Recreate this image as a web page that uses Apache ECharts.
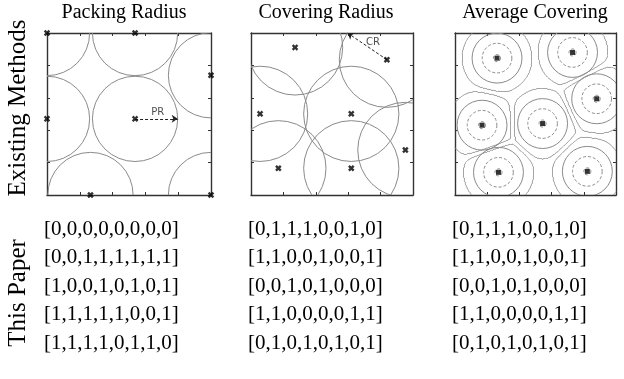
<!DOCTYPE html>
<html><head><meta charset="utf-8">
<script src="https://cdn.jsdelivr.net/npm/echarts@6/dist/echarts.min.js"></script>
<style>html,body{margin:0;padding:0;background:#fff}#c{width:624px;height:379px}</style>
</head><body><div id="c"></div>
<script>
// ---- data ----
const panelTitles = ['Packing Radius', 'Covering Radius', 'Average Covering'];
const rowLabels = ['Existing Methods', 'This Paper'];
const packX = [0, 0.537, 1, 0, 0.537, 0.265, 1];
const packY = [1, 1, 0.739, 0.47, 0.47, 0, 0];
const packR = 0.26;
const covX = [0.272, 0.839, 0.056, 0.619, 0.953, 0.169, 0.619];
const covY = [0.911, 0.835, 0.501, 0.501, 0.278, 0.165, 0.165];
const covR = 0.294;
const avgX = [0.261, 0.730, 0.880, 0.168, 0.544, 0.270, 0.822];
const avgY = [0.845, 0.880, 0.594, 0.431, 0.441, 0.140, 0.146];
const avgRingR = [0.022, 0.092, 0.155];
const avgRingDashed = [true, true, false];
const avgOuterR = 0.218;
const avgGap = 0.022;
const prArrow = [[0.537, 0.47], [0.797, 0.47]];
const crArrow = [[0.839, 0.835], [0.596, 1.0]];
const prLabel = [0.675, 0.51, 'PR'];
const crLabel = [0.753, 0.94, 'CR'];
const bitsCol1 = [[0,0,0,0,0,0,0,0],[0,0,1,1,1,1,1,1],[1,0,0,1,0,1,0,1],[1,1,1,1,1,0,0,1],[1,1,1,1,0,1,1,0]];
const bitsCol2 = [[0,1,1,1,0,0,1,0],[1,1,0,0,1,0,0,1],[0,0,1,0,1,0,0,0],[1,1,0,0,0,0,1,1],[0,1,0,1,0,1,0,1]];
const bitsCol3 = [[0,1,1,1,0,0,1,0],[1,1,0,0,1,0,0,1],[0,0,1,0,1,0,0,0],[1,1,0,0,0,0,1,1],[0,1,0,1,0,1,0,1]];

// ---- layout ----
const gridBoxes = [
  {left: 47, top: 33, width: 164, height: 162},
  {left: 251, top: 33, width: 162, height: 162},
  {left: 455, top: 33, width: 161, height: 162}
];
const serif = 'Liberation Serif';
const ringColor = '#8a8a8a';

const chart = echarts.init(document.getElementById('c'), null, {renderer: 'canvas'});

const xAxes = [], yAxes = [];
gridBoxes.forEach((g, i) => {
  const base = {gridIndex: i, type: 'value', min: 0, max: 1, interval: 0.2,
    axisLabel: {show: false}, splitLine: {show: false},
    axisLine: {show: true, onZero: false, lineStyle: {color: '#333', width: 1.4}},
    axisTick: {show: true, inside: true, length: 3, lineStyle: {color: '#333', width: 1}}};
  xAxes.push(Object.assign({}, base, {position: 'bottom'}));
  xAxes.push(Object.assign({}, base, {position: 'top'}));
  yAxes.push(Object.assign({}, base, {position: 'left'}));
  yAxes.push(Object.assign({}, base, {position: 'right'}));
});

const xMarker = 'path://M0,2.6 L2.6,0 L5,2.4 L7.4,0 L10,2.6 L7.6,5 L10,7.4 L7.4,10 L5,7.6 L2.6,10 L0,7.4 L2.4,5 Z';

function circleSeries(gi, data) {
  return {
    type: 'custom', xAxisIndex: 2 * gi, yAxisIndex: 2 * gi, clip: true, silent: true,
    encode: {x: 0, y: 1}, data: data, z: 2,
    renderItem: function (params, api) {
      const c = api.coord([api.value(0), api.value(1)]);
      const s = api.size([api.value(2), api.value(2)]);
      const dashed = api.value(3) === 1;
      return {type: 'circle', shape: {cx: c[0], cy: c[1], r: s[0]},
        style: {fill: 'none', stroke: ringColor, lineWidth: 1, lineDash: dashed ? [3, 2] : null}};
    }
  };
}
function pointSeries(gi, xs, ys, sym, size) {
  return {type: 'scatter', xAxisIndex: 2 * gi, yAxisIndex: 2 * gi, symbol: sym, symbolSize: size,
    itemStyle: {color: '#000'}, z: 5, silent: true, data: xs.map((x, i) => [x, ys[i]])};
}
function arrowSeries(gi, coords) {
  return {type: 'lines', coordinateSystem: 'cartesian2d', xAxisIndex: 2 * gi, yAxisIndex: 2 * gi,
    symbol: ['none', 'arrow'], symbolSize: 6, z: 4, silent: true,
    lineStyle: {type: [3, 2], color: '#222', width: 1, opacity: 1},
    data: [{coords: coords}]};
}
function labelSeries(gi, lab) {
  return {type: 'scatter', xAxisIndex: 2 * gi, yAxisIndex: 2 * gi, symbolSize: 0, z: 6, silent: true,
    data: [[lab[0], lab[1]]],
    label: {show: true, position: 'inside', formatter: lab[2], color: '#222', fontSize: 10, fontFamily: 'DejaVu Sans'}};
}

// Average-covering outer contour via marching squares on a field built from the points
function avgField(x, y) {
  let d1 = Infinity, d2 = Infinity;
  for (let k = 0; k < avgX.length; k++) {
    const d = Math.hypot(x - avgX[k], y - avgY[k]);
    if (d < d1) { d2 = d1; d1 = d; } else if (d < d2) { d2 = d; }
  }
  const a = (d2 - d1) - avgGap, b = avgOuterR - d1, k = 70;
  const m = Math.min(a, b);
  return m - Math.log(Math.exp(-k * (a - m)) + Math.exp(-k * (b - m))) / k;
}
function contourSegments(fn, N) {
  const v = [];
  for (let i = 0; i <= N; i++) { v.push([]); for (let j = 0; j <= N; j++) v[i].push(fn(i / N, j / N)); }
  const segs = [];
  const interp = (x0, y0, f0, x1, y1, f1) => { const t = f0 / (f0 - f1); return [x0 + (x1 - x0) * t, y0 + (y1 - y0) * t]; };
  for (let i = 0; i < N; i++) for (let j = 0; j < N; j++) {
    const x0 = i / N, x1 = (i + 1) / N, y0 = j / N, y1 = (j + 1) / N;
    const f = [v[i][j], v[i + 1][j], v[i + 1][j + 1], v[i][j + 1]];
    const P = [[x0, y0], [x1, y0], [x1, y1], [x0, y1]];
    const pts = [];
    for (let e = 0; e < 4; e++) {
      const a = e, b = (e + 1) % 4;
      if ((f[a] > 0) !== (f[b] > 0)) pts.push({e: e, p: interp(P[a][0], P[a][1], f[a], P[b][0], P[b][1], f[b])});
      else pts.push(null);
    }
    const cr = pts.filter(Boolean);
    if (cr.length === 2) segs.push([cr[0].p, cr[1].p]);
    else if (cr.length === 4) {
      const fc = fn((x0 + x1) / 2, (y0 + y1) / 2);
      if ((fc > 0) === (f[0] > 0)) { segs.push([pts[0].p, pts[1].p]); segs.push([pts[2].p, pts[3].p]); }
      else { segs.push([pts[3].p, pts[0].p]); segs.push([pts[1].p, pts[2].p]); }
    }
  }
  return segs;
}
const outerSegs = contourSegments(avgField, 240);

const series = [];
series.push(circleSeries(0, packX.map((x, i) => [x, packY[i], packR, 0])));
series.push(pointSeries(0, packX, packY, xMarker, 6.5));
series.push(arrowSeries(0, prArrow));
series.push(labelSeries(0, prLabel));
series.push(circleSeries(1, covX.map((x, i) => [x, covY[i], covR, 0])));
series.push(pointSeries(1, covX, covY, xMarker, 6.5));
series.push(arrowSeries(1, crArrow));
series.push(labelSeries(1, crLabel));
const ringData = [];
avgX.forEach((x, i) => avgRingR.forEach((r, k) => ringData.push([x, avgY[i], r, avgRingDashed[k] ? 1 : 0])));
series.push(circleSeries(2, ringData));
series.push({type: 'lines', coordinateSystem: 'cartesian2d', xAxisIndex: 4, yAxisIndex: 4, silent: true, z: 2,
  polyline: false, lineStyle: {color: ringColor, width: 1, opacity: 1},
  data: outerSegs.map(s => ({coords: s}))});
series.push(pointSeries(2, avgX, avgY, 'rect', 5));

// text
const graphics = [];
const titleCenters = [124, 326, 535];
panelTitles.forEach((t, i) => graphics.push({type: 'text', x: titleCenters[i], y: 13,
  style: {text: t, fontFamily: serif, fontSize: 20, fill: '#000', align: 'center', verticalAlign: 'middle'}}));
const rowLabelY = [108, 293];
rowLabels.forEach((t, i) => graphics.push({type: 'text', x: 18, y: rowLabelY[i], rotation: Math.PI / 2,
  style: {text: t, fontFamily: serif, fontSize: 25, fill: '#000', align: 'center', verticalAlign: 'middle'}}));
const colX = [44, 248, 452];
const rowY = [229, 257.5, 286, 314.5, 343];
[bitsCol1, bitsCol2, bitsCol3].forEach((col, c) => col.forEach((bits, r) => graphics.push({type: 'text', x: colX[c], y: rowY[r],
  style: {text: '[' + bits.join(',') + ']', fontFamily: serif, fontSize: 21, fill: '#000', align: 'left', verticalAlign: 'middle'}})));

chart.setOption({
  animation: false,
  backgroundColor: '#fff',
  grid: gridBoxes.map(g => Object.assign({containLabel: false}, g)),
  xAxis: xAxes, yAxis: yAxes,
  series: series,
  graphic: graphics
});
</script></body></html>
